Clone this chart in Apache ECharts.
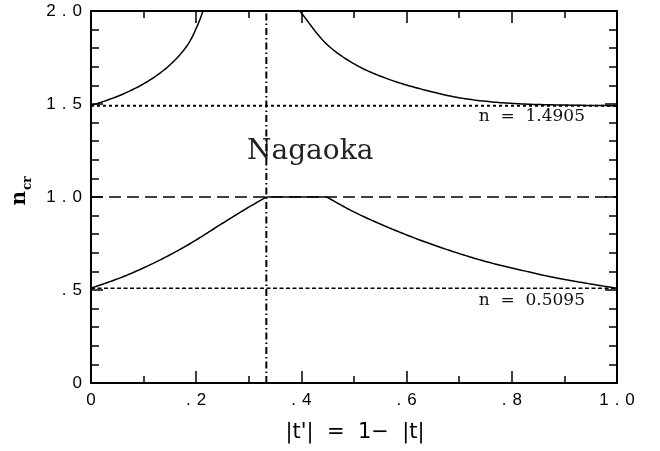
<!DOCTYPE html>
<html>
<head>
<meta charset="utf-8">
<script src="https://cdn.jsdelivr.net/npm/echarts@6/dist/echarts.min.js"></script>
<style>
  html, body { margin: 0; padding: 0; background: #fff; }
  #chart { width: 660px; height: 451px; }
</style>
</head>
<body>
<div id="chart"></div>
<script>
// Critical refractive index n_cr versus |t'| = 1 - |t|
const xTickLabels = ['0', '.2', '.4', '.6', '.8', '1.0'];
const yTickLabels = ['0', '.5', '1.0', '1.5', '2.0'];

// upper branch, left of the divergence
const upperLeft = [[0, 1.4905], [0.058, 1.550], [0.108, 1.622], [0.150, 1.710],
                   [0.184, 1.819], [0.203, 1.926], [0.213, 2.0]];
// upper branch, right of the divergence
const upperRight = [[0.397, 2.0], [0.448, 1.822], [0.505, 1.708], [0.568, 1.631],
                    [0.632, 1.577], [0.695, 1.536], [0.759, 1.512], [0.822, 1.500],
                    [0.885, 1.495], [1.0, 1.4905]];
// lower branch: rising part, plateau at n = 1, falling part
const lowerLeft = [[0, 0.5095], [0.058, 0.568], [0.121, 0.647], [0.184, 0.742],
                   [0.248, 0.855], [0.292, 0.932], [0.3333, 1.0]];
const lowerFlat = [[0.3333, 1.0], [0.448, 1.0]];
const lowerRight = [[0.448, 1.0], [0.499, 0.921], [0.562, 0.840], [0.625, 0.769],
                    [0.689, 0.706], [0.752, 0.652], [0.816, 0.608], [0.879, 0.568],
                    [0.942, 0.536], [1.0, 0.5095]];

// reference levels
const nHigh = 1.4905;
const nLow = 0.5095;
const nUnit = 1.0;
const nagaokaX = 1 / 3;

const chart = echarts.init(document.getElementById('chart'), null, { renderer: 'canvas' });

function spaced(s) {
  return s.split('').map(c => '{c|' + c + '}').join('');
}
const tickRich = {
  c: { fontFamily: 'Liberation Sans', fontSize: 17, color: '#000', padding: [0, 3, 0, 3] }
};
const black = '#000';

function xAxisCfg(pos, showLabel) {
  return {
    type: 'value', position: pos, min: 0, max: 1, interval: 0.2,
    axisLine: { show: true, onZero: false, lineStyle: { color: black, width: 2 } },
    axisTick: { show: true, inside: true, length: 12, lineStyle: { color: black, width: 1.5 } },
    minorTick: { show: true, splitNumber: 2, length: 7, lineStyle: { color: black, width: 1.5 } },
    splitLine: { show: false },
    axisLabel: {
      show: showLabel, margin: 9, fontSize: 17, fontFamily: 'Liberation Sans', color: black,
      formatter: v => spaced(xTickLabels[Math.round(v / 0.2)]),
      rich: tickRich
    }
  };
}
function yAxisCfg(pos, showLabel) {
  return {
    type: 'value', position: pos, min: 0, max: 2, interval: 0.5,
    axisLine: { show: true, onZero: false, lineStyle: { color: black, width: 2 } },
    axisTick: { show: true, inside: true, length: 12, lineStyle: { color: black, width: 1.5 } },
    minorTick: { show: true, splitNumber: 5, length: 8, lineStyle: { color: black, width: 1.5 } },
    splitLine: { show: false },
    axisLabel: {
      show: showLabel, margin: 6, fontSize: 17, fontFamily: 'Liberation Sans', color: black,
      formatter: v => spaced(yTickLabels[Math.round(v / 0.5)]),
      rich: tickRich
    }
  };
}

// centripetal Catmull-Rom path through pixel points
function spline(px, steps) {
  const n = px.length;
  if (n < 3) return px;
  const ext = [
    [2 * px[0][0] - px[1][0], 2 * px[0][1] - px[1][1]],
    ...px,
    [2 * px[n - 1][0] - px[n - 2][0], 2 * px[n - 1][1] - px[n - 2][1]]
  ];
  const lerp = (a, b, ta, tb, t) => {
    const d = tb - ta;
    return [(tb - t) / d * a[0] + (t - ta) / d * b[0], (tb - t) / d * a[1] + (t - ta) / d * b[1]];
  };
  const knot = (a, b) => Math.pow(Math.hypot(b[0] - a[0], b[1] - a[1]), 0.5) || 1e-6;
  const out = [px[0]];
  for (let i = 1; i < ext.length - 2; i++) {
    const p0 = ext[i - 1], p1 = ext[i], p2 = ext[i + 1], p3 = ext[i + 2];
    const t0 = 0, t1 = t0 + knot(p0, p1), t2 = t1 + knot(p1, p2), t3 = t2 + knot(p2, p3);
    for (let s = 1; s <= steps; s++) {
      const t = t1 + (t2 - t1) * s / steps;
      const a1 = lerp(p0, p1, t0, t1, t), a2 = lerp(p1, p2, t1, t2, t), a3 = lerp(p2, p3, t2, t3, t);
      const b1 = lerp(a1, a2, t0, t2, t), b2 = lerp(a2, a3, t1, t3, t);
      out.push(lerp(b1, b2, t1, t2, t));
    }
  }
  return out;
}

// smooth curve through the given points, positioned through the cartesian axes
function curve(points) {
  return {
    type: 'custom', coordinateSystem: 'cartesian2d', clip: true, silent: true,
    data: [points[0]],
    renderItem: (params, api) => ({
      type: 'polyline',
      shape: { points: spline(points.map(p => api.coord(p)), 16) },
      style: { stroke: black, lineWidth: 1.5, fill: null, lineJoin: 'round' }
    })
  };
}
function refLine(data, type, width) {
  return {
    type: 'line', data: data, showSymbol: false, symbol: 'none',
    lineStyle: { color: black, width: width, type: type }, silent: true
  };
}

chart.setOption({
  animation: false,
  backgroundColor: '#fff',
  grid: { left: 91, right: 43, top: 11, bottom: 68 },
  xAxis: [xAxisCfg('bottom', true), xAxisCfg('top', false)],
  yAxis: [yAxisCfg('left', true), yAxisCfg('right', false)],
  series: [
    refLine([[0, nHigh], [1, nHigh]], [3, 3], 2),
    refLine([[0, nLow], [1, nLow]], [4, 2.5], 1.3),
    refLine([[0, nUnit], [1, nUnit]], [12, 6], 1.3),
    refLine([[nagaokaX, 0], [nagaokaX, 2]], [7, 3, 1.5, 3], 2),
    curve(upperLeft),
    curve(upperRight),
    curve(lowerLeft),
    curve(lowerFlat),
    curve(lowerRight)
  ],
  graphic: [
    {
      type: 'text', x: 247, y: 138,
      style: { text: 'Nagaoka', font: '28px "DejaVu Serif"', fill: '#222' }
    },
    {
      type: 'text', x: 585, y: 108,
      style: { text: 'n  =  ' + nHigh.toFixed(4), font: '17px "DejaVu Serif"', fill: '#111',
               textAlign: 'right' }
    },
    {
      type: 'text', x: 585, y: 292,
      style: { text: 'n  =  ' + nLow.toFixed(4), font: '17px "DejaVu Serif"', fill: '#111',
               textAlign: 'right' }
    },
    {
      type: 'text', x: 355, y: 433,
      style: {
        text: "|t'|  =  1\u2212  |t|", font: '21px "DejaVu Sans"', fill: '#000',
        textAlign: 'center', textVerticalAlign: 'middle'
      }
    },
    {
      type: 'group', x: 30, y: 191, rotation: Math.PI / 2,
      children: [
        { type: 'text', x: 0, y: 0,
          style: { text: 'n', font: 'bold 20px "DejaVu Serif"', fill: '#000',
                   textAlign: 'right', textVerticalAlign: 'bottom' } },
        { type: 'text', x: 1, y: 4,
          style: { text: 'cr', font: 'bold 12px "DejaVu Serif"', fill: '#000',
                   textAlign: 'left', textVerticalAlign: 'bottom' } }
      ]
    }
  ]
});
</script>
</body>
</html>
